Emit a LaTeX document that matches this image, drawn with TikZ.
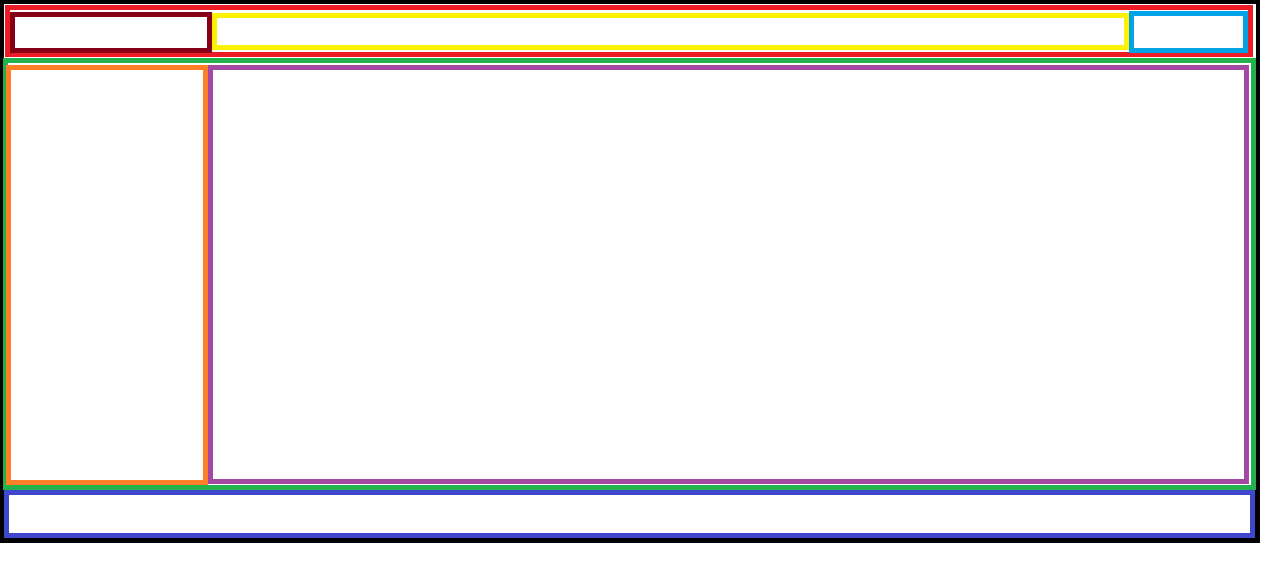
\documentclass[tikz,border=0pt]{standalone}
\definecolor{framered}{RGB}{237,28,36}
\definecolor{darkred}{RGB}{136,0,21}
\definecolor{brightyellow}{RGB}{255,242,0}
\definecolor{skyblue}{RGB}{0,162,232}
\definecolor{panelgreen}{RGB}{34,177,76}
\definecolor{sideorange}{RGB}{255,127,39}
\definecolor{mainpurple}{RGB}{163,73,164}
\definecolor{footblue}{RGB}{63,72,204}
\begin{document}
\begin{tikzpicture}[x=1pt,y=-1pt,
    box/.style={draw=#1,fill=white,line width=5pt}]
   \useasboundingbox (0,0) rectangle (1274,560);
   \fill[white] (0,0) rectangle (1274,560);
   \fill[black] (0,0) rectangle (1260,543);

   \fill[white] (4,4) rectangle (1256,58);
   \draw[box=framered] (7.5,7.5) rectangle (1250.5,54.2);
   \draw[box=darkred] (12.5,14.2) rectangle (209.2,50.2);
   \draw[box=brightyellow] (214.2,15.8) rectangle (1126.8,47.5);
   \draw[box=skyblue] (1131.8,13.5) rectangle (1245.5,50.8);

   \draw[box=panelgreen] (5.5,60.2) rectangle (1253.5,487.5);
   \draw[box=sideorange] (8.5,67.5) rectangle (205.8,482.5);
   \draw[box=mainpurple] (210.8,67.5) rectangle (1246.5,481.5);

   \draw[box=footblue] (6.5,492.5) rectangle (1252.5,535.2);

    \end{tikzpicture}
\end{document}
